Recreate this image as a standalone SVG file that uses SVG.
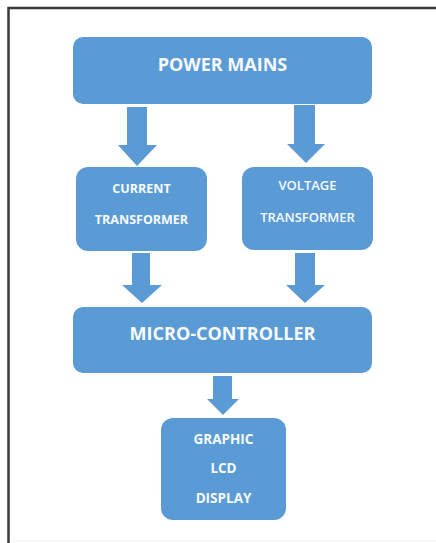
<svg xmlns="http://www.w3.org/2000/svg" width="436" height="543" viewBox="0 0 436 543">
<style>
.box{fill:#5b9bd5;}
.arr{fill:#5b9bd5;}
.t{fill:#f7fafd;font-family:"Open Sans","Liberation Sans",sans-serif;font-weight:bold;text-anchor:middle;}
.big{font-size:18px;}
.sm{font-size:12.5px;}
.md{font-size:13.5px;}
.frame{stroke:#3a3a3a;stroke-width:2.5;fill:none;}
</style>
<rect width="436" height="543" fill="#ffffff"/>
<path class="frame" d="M8.5,543 V8 H436"/>
<line x1="10" y1="541" x2="436" y2="541" stroke="#f0f0f0" stroke-width="1"/>
<g id="connectors">
<polygon class="arr" points="127,107 147,107 147,145 157,145 137,166 118,145 127,145"/>
<polygon class="arr" points="294,105 315,105 315,144 325,144 306,163 287,144 294,144"/>
<polygon class="arr" points="132,253 150,253 150,285 162,285 142,303 122,285 132,285"/>
<polygon class="arr" points="295,253 315,253 315,285 325,285 305,303 286,285 295,285"/>
<polygon class="arr" points="213,376 232,376 232,399 239,399 223,415 207,399 213,399"/>
</g>
<g id="power-mains">
<rect class="box" x="73" y="37" width="299" height="67" rx="10"/>
<text class="t big" x="222.5" y="71">POWER MAINS</text>
</g>
<g id="current-transformer">
<rect class="box" x="76" y="167" width="131" height="84" rx="12"/>
<text class="t sm" x="141.5" y="192.5">CURRENT</text>
<text class="t sm" x="141.5" y="223.5">TRANSFORMER</text>
</g>
<g id="voltage-transformer">
<rect class="box" x="242" y="167" width="131" height="83" rx="12"/>
<text class="t" x="307.5" y="190" style="font-weight:600;font-size:13px">VOLTAGE</text>
<text class="t" x="307.5" y="222" style="font-weight:600;font-size:13px">TRANSFORMER</text>
</g>
<g id="micro-controller">
<rect class="box" x="73" y="307" width="299" height="66" rx="10"/>
<text class="t big" x="222.5" y="339.5">MICRO-CONTROLLER</text>
</g>
<g id="graphic-lcd">
<rect class="box" x="161" y="418" width="125" height="102" rx="12"/>
<text class="t md" x="223.5" y="444">GRAPHIC</text>
<text class="t md" x="223.5" y="473">LCD</text>
<text class="t md" x="223.5" y="503">DISPLAY</text>
</g>
</svg>
